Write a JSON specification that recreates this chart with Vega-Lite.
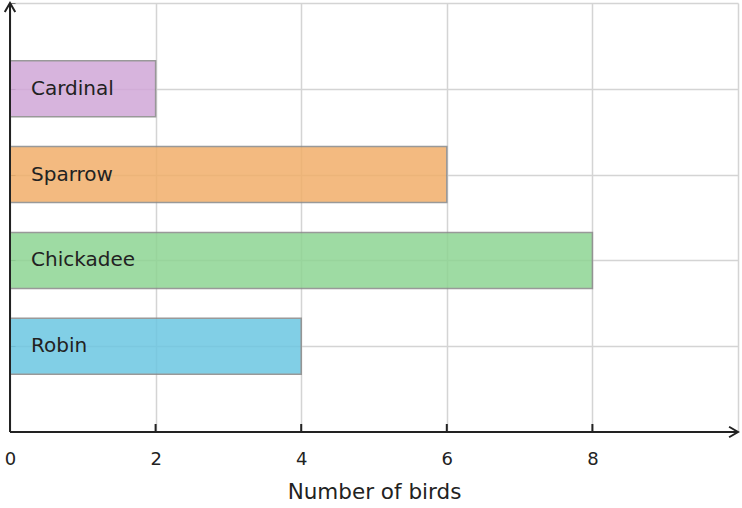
{
  "$schema": "https://vega.github.io/schema/vega-lite/v6.json",
  "autosize": "none",
  "padding": {"left": 10, "top": 3, "right": 4, "bottom": 76},
  "width": 728,
  "height": 429,
  "background": "white",
  "config": {
    "font": "DejaVu Sans",
    "view": {"stroke": null}
  },
  "datasets": {
    "birds": [
      {"bird": "Robin", "pos": 1, "count": 4, "color": "#6cc7e2"},
      {"bird": "Chickadee", "pos": 2, "count": 8, "color": "#8ed593"},
      {"bird": "Sparrow", "pos": 3, "count": 6, "color": "#f1af6a"},
      {"bird": "Cardinal", "pos": 4, "count": 2, "color": "#d1a7d8"}
    ],
    "axes": [
      {"x": 0, "y": 0, "x2": 10, "y2": 0},
      {"x": 0, "y": 0, "x2": 0, "y2": 5}
    ],
    "xticks": [{"x": 2}, {"x": 4}, {"x": 6}, {"x": 8}]
  },
  "layer": [
    {
      "data": {"name": "birds"},
      "mark": {"type": "bar", "orient": "horizontal", "size": 56, "opacity": 0.85, "stroke": "#888888", "strokeWidth": 1.5, "strokeOpacity": 1},
      "encoding": {
        "y": {
          "field": "pos", "type": "quantitative",
          "scale": {"domain": [0, 5], "nice": false, "zero": true, "padding": 0},
          "axis": {
            "values": [1, 2, 3, 4, 5], "labels": false, "title": null,
            "grid": true, "gridColor": "#d4d4d4", "gridWidth": 1.5, "gridOpacity": 1,
            "domain": false,
            "tickColor": "#777777", "tickSize": -5, "tickWidth": 1
          }
        },
        "x": {
          "field": "count", "type": "quantitative",
          "scale": {"domain": [0, 10], "nice": false, "padding": 0},
          "axis": {
            "values": [0, 2, 4, 6, 8, 10], "format": "d", "labelFlush": false,
            "labelExpr": "datum.value == 10 ? '' : datum.label",
            "grid": true, "gridColor": "#d4d4d4", "gridWidth": 1.5, "gridOpacity": 1,
            "domain": false, "ticks": false,
            "labelFontSize": 18, "labelColor": "#222222", "labelPadding": 18,
            "title": "Number of birds", "titleFontSize": 21.5, "titleFontWeight": "normal",
            "titleColor": "#222222", "titlePadding": 13
          }
        },
        "color": {"field": "color", "type": "nominal", "scale": null, "legend": null}
      }
    },
    {
      "data": {"name": "birds"},
      "mark": {"type": "text", "align": "left", "baseline": "middle", "dx": 21, "fontSize": 20, "color": "#222222"},
      "encoding": {
        "y": {"field": "pos", "type": "quantitative"},
        "x": {"datum": 0, "type": "quantitative"},
        "text": {"field": "bird"}
      }
    },
    {
      "data": {"name": "xticks"},
      "mark": {"type": "tick", "orient": "vertical", "size": 8, "thickness": 2, "yOffset": -4, "color": "#222222", "opacity": 1},
      "encoding": {
        "x": {"field": "x", "type": "quantitative"},
        "y": {"datum": 0, "type": "quantitative"}
      }
    },
    {
      "data": {"name": "axes"},
      "mark": {"type": "rule", "color": "#222222", "strokeWidth": 2},
      "encoding": {
        "x": {"field": "x", "type": "quantitative"},
        "y": {"field": "y", "type": "quantitative"},
        "x2": {"field": "x2"},
        "y2": {"field": "y2"}
      }
    },
    {
      "data": {"values": [{"x": 10, "y": 0}]},
      "mark": {"type": "point", "shape": "M-1.7,-1L0,0L-1.7,1", "size": 110, "filled": false, "stroke": "#222222", "strokeWidth": 2, "opacity": 1},
      "encoding": {
        "x": {"field": "x", "type": "quantitative"},
        "y": {"field": "y", "type": "quantitative"}
      }
    },
    {
      "data": {"values": [{"x": 0, "y": 5}]},
      "mark": {"type": "point", "shape": "M-1,1.7L0,0L1,1.7", "size": 110, "filled": false, "stroke": "#222222", "strokeWidth": 2, "opacity": 1},
      "encoding": {
        "x": {"field": "x", "type": "quantitative"},
        "y": {"field": "y", "type": "quantitative"}
      }
    }
  ]
}
